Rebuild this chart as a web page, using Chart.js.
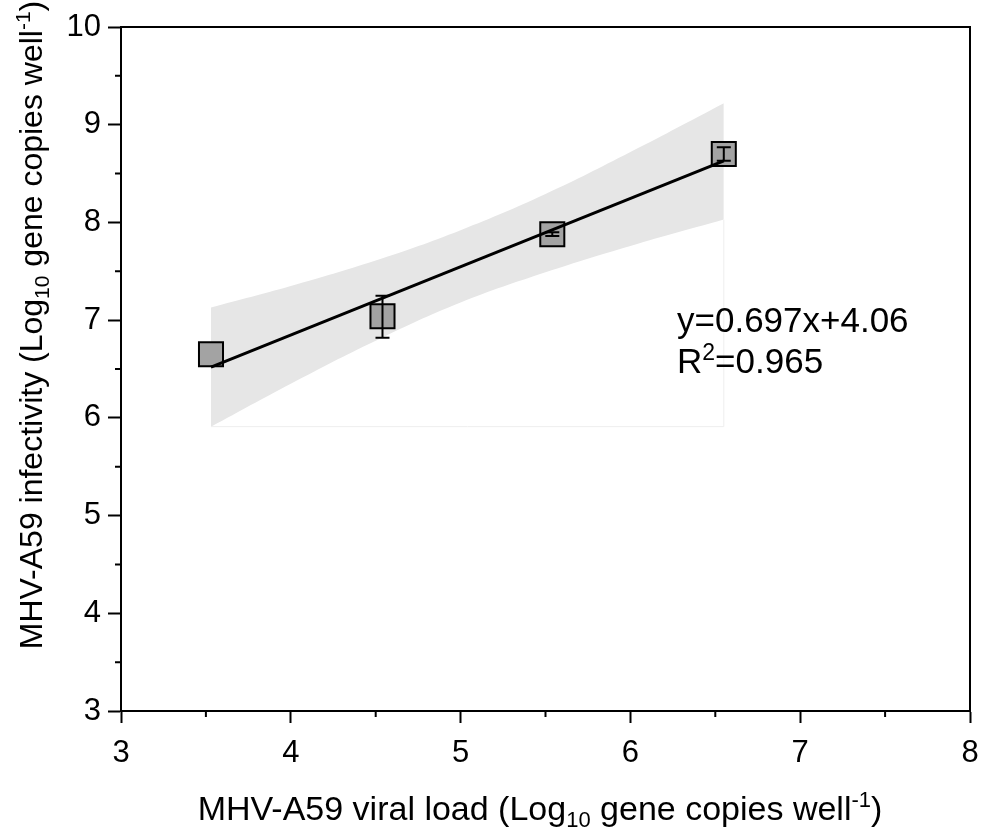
<!DOCTYPE html>
<html><head><meta charset="utf-8">
<script src="https://cdn.jsdelivr.net/npm/chart.js@4"></script>
<style>html,body{margin:0;padding:0;background:#fff}#wrap{position:relative;width:985px;height:835px}canvas{display:block}</style>
</head><body><div id="wrap"><canvas id="c" width="985" height="835"></canvas></div>
<script>
// ---- data ----
const viralLoad   = [3.53, 4.54, 5.54, 6.55];
const infectivity = [6.65, 7.04, 7.88, 8.70];
const errUpper    = [6.65, 7.25, 7.90, 8.77];
const errLower    = [6.65, 6.82, 7.86, 8.63];
const fitX = [3.53, 6.55];
const fitY = [6.52, 8.63];
const bandX     = [3.53, 4.0, 4.5, 5.0, 5.5, 6.0, 6.55];
const bandUpper = [7.13, 7.35, 7.61, 7.92, 8.29, 8.72, 9.22];
const bandLower = [5.91, 6.35, 6.79, 7.18, 7.49, 7.76, 8.03];
const xTicks = [3, 4, 5, 6, 7, 8];
const yTicks = [3, 4, 5, 6, 7, 8, 9, 10];
const xMinor = [3.5, 4.5, 5.5, 6.5, 7.5];
const yMinor = [3.5, 4.5, 5.5, 6.5, 7.5, 8.5, 9.5];
const equationText = 'y=0.697x+4.06';
const r2Label = ['R', '2', '=0.965'];
const xTitle = [['MHV-A59 viral load (Log',''],['10','sub'],[' gene copies well',''],['-1','sup'],[')','']];
const yTitle = [['MHV-A59 infectivity (Log',''],['10','sub'],[' gene copies well',''],['-1','sup'],[')','']];

const FONT = "'Liberation Sans', Arial, sans-serif";
const TICK_PX = 31, XTITLE_PX = 34, YTITLE_PX = 32, EQ_PX = 35;

const pts = (xs, ys) => xs.map((x, i) => ({x, y: ys[i]}));

function drawRich(ctx, segs, size, x, y, align) {
  const small = Math.round(size * 0.65);
  let total = 0;
  const widths = segs.map(([t, k]) => {
    ctx.font = (k ? small : size) + 'px ' + FONT;
    const w = ctx.measureText(t).width; total += w; return w;
  });
  let cx = align === 'center' ? x - total / 2 : x;
  ctx.textBaseline = 'alphabetic';
  ctx.textAlign = 'left';
  segs.forEach(([t, k], i) => {
    ctx.font = (k ? small : size) + 'px ' + FONT;
    let dy = 0;
    if (k === 'sub') dy = size * 0.22;
    if (k === 'sup') dy = -size * 0.38;
    ctx.fillText(t, cx, y + dy);
    cx += widths[i];
  });
}

const decor = {
  id: 'decor',
  afterDatasetDraw(chart, args) {
    if (args.index !== 3) return;
    const ctx = chart.ctx, xs = chart.scales.x, ys = chart.scales.y;
    ctx.save();
    ctx.strokeStyle = '#000'; ctx.lineWidth = 2;
    viralLoad.forEach((v, i) => {
      if (errUpper[i] === errLower[i]) return;
      const px = xs.getPixelForValue(v);
      const pt = ys.getPixelForValue(errUpper[i]);
      const pb = ys.getPixelForValue(errLower[i]);
      ctx.beginPath();
      ctx.moveTo(px, pt); ctx.lineTo(px, pb);
      ctx.moveTo(px - 7, pt); ctx.lineTo(px + 7, pt);
      ctx.moveTo(px - 7, pb); ctx.lineTo(px + 7, pb);
      ctx.stroke();
    });
    ctx.restore();
  },
  afterDraw(chart) {
    const ctx = chart.ctx, a = chart.chartArea, xs = chart.scales.x, ys = chart.scales.y;
    ctx.save();
    ctx.strokeStyle = '#000'; ctx.lineWidth = 2;
    ctx.beginPath();
    ctx.moveTo(a.left, a.top); ctx.lineTo(a.right, a.top); ctx.lineTo(a.right, a.bottom);
    ctx.stroke();
    ctx.beginPath();
    xMinor.forEach(v => { const p = xs.getPixelForValue(v); ctx.moveTo(p, a.bottom); ctx.lineTo(p, a.bottom + 6); });
    yMinor.forEach(v => { const p = ys.getPixelForValue(v); ctx.moveTo(a.left, p); ctx.lineTo(a.left - 6, p); });
    ctx.stroke();
    ctx.fillStyle = '#000';
    drawRich(ctx, [[equationText, '']], EQ_PX, 677, 332, 'left');
    drawRich(ctx, [[r2Label[0], ''], [r2Label[1], 'sup'], [r2Label[2], '']], EQ_PX, 677, 373, 'left');
    drawRich(ctx, xTitle, XTITLE_PX, 540, 820, 'center');
    ctx.translate(42, 325); ctx.rotate(-Math.PI / 2);
    drawRich(ctx, yTitle, YTITLE_PX, 0, 0, 'center');
    ctx.restore();
  }
};

new Chart(document.getElementById('c'), {
  type: 'scatter',
  data: {
    datasets: [
      { data: pts(bandX, bandUpper), showLine: true, fill: '+1', backgroundColor: '#e6e6e6',
        borderWidth: 0, borderColor: 'rgba(0,0,0,0)', pointRadius: 0, order: 5, tension: 0.4 },
      { data: pts(bandX, bandLower), showLine: true, fill: false, borderWidth: 0,
        borderColor: 'rgba(0,0,0,0)', pointRadius: 0, order: 4, tension: 0.4 },
      { data: [{x: bandX[0], y: bandLower[0]}, {x: bandX[bandX.length-1], y: bandLower[0]}, {x: bandX[bandX.length-1], y: bandLower[bandX.length-1]}],
        showLine: true, fill: false, borderWidth: 1, borderColor: '#eeeeee', pointRadius: 0, order: 4.5 },
      { data: pts(viralLoad, infectivity), pointStyle: 'rect', pointRadius: 17, pointHoverRadius: 17,
        backgroundColor: '#a3a3a3', borderColor: '#000', borderWidth: 2, order: 2 },
      { data: pts(fitX, fitY), showLine: true, borderColor: '#000', borderWidth: 3, pointRadius: 0, order: 1 }
    ]
  },
  options: {
    responsive: false, maintainAspectRatio: false, animation: false, devicePixelRatio: 1,
    layout: { autoPadding: false, padding: { left: 0, right: 15, top: 27, bottom: 0 } },
    plugins: { legend: { display: false }, tooltip: { enabled: false } },
    scales: {
      x: {
        type: 'linear', min: 3, max: 8,
        afterBuildTicks: s => { s.ticks = xTicks.map(v => ({value: v})); },
        afterFit: s => { s.height = 124; s.paddingLeft = 0; s.paddingRight = 0; },
        grid: { drawOnChartArea: false, tickLength: 12, tickWidth: 2, tickColor: '#000' },
        border: { display: true, color: '#000', width: 2 },
        ticks: { color: '#000', font: { size: TICK_PX, family: FONT }, padding: 12, maxRotation: 0 }
      },
      y: {
        type: 'linear', min: 3, max: 10,
        afterBuildTicks: s => { s.ticks = yTicks.map(v => ({value: v})); },
        afterFit: s => { s.width = 121; s.paddingTop = 0; s.paddingBottom = 0; },
        grid: { drawOnChartArea: false, tickLength: 13, tickWidth: 2, tickColor: '#000' },
        border: { display: true, color: '#000', width: 2 },
        ticks: { color: '#000', font: { size: TICK_PX, family: FONT }, padding: 7 }
      }
    }
  },
  plugins: [decor]
});
</script></body></html>
